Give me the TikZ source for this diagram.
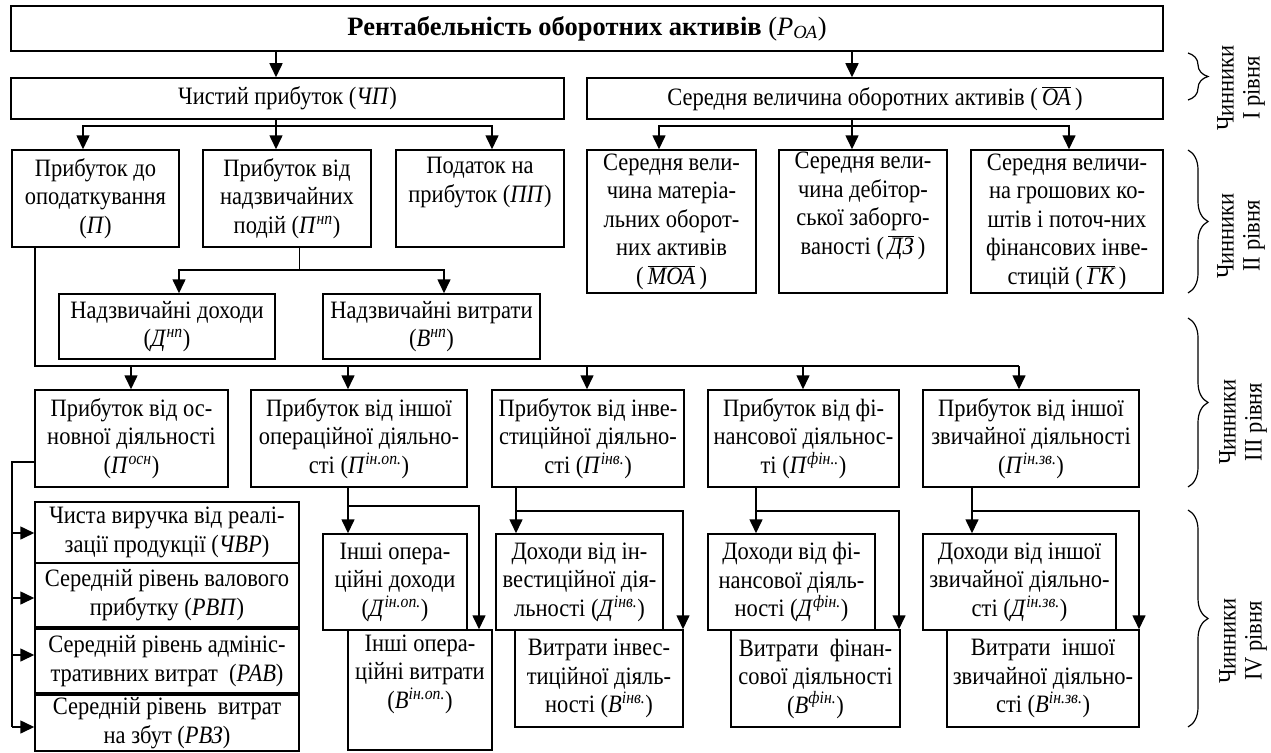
\documentclass[tikz,border=0pt]{standalone}
\usepackage{fontspec}
\setmainfont{Liberation Serif}[FakeStretch=0.9]
\newfontfamily\titlefont{Liberation Serif}
\usetikzlibrary{arrows.meta,decorations.pathreplacing}
\newcommand{\ovl}[1]{$\overline{\mbox{\itshape #1}}$}
\newcommand{\bx}[7][]{%
\pgfmathsetmacro{\bxcx}{(#3+#5)/2}%
\pgfmathsetmacro{\bxcy}{(#4+#6)/2}%
\pgfmathsetmacro{\bxw}{#5-#3}%
\pgfmathsetmacro{\bxh}{#6-#4}%
\node[box,minimum width=\bxw pt,minimum height=\bxh pt,#1] (#2) at (\bxcx,\bxcy) {#7};}
\newcommand{\ix}[2]{\textit{#1}\textsuperscript{\textit{#2}}}
\tikzset{
  box/.style={draw,line width=1.5pt,fill=white,inner sep=1pt,align=center,
    font=\fontsize{25}{28.5}\selectfont},
  ln/.style={line width=1.6pt},
  thinln/.style={line width=1pt},
  arr/.style={line width=1.6pt,-{Triangle[length=14pt,width=13pt]}},
  brc/.style={line width=1.2pt,decorate,decoration={brace,amplitude=20pt}},
  lvl/.style={rotate=90,align=center,font=\fontsize{25}{26}\selectfont}
}
\begin{document}
\begin{tikzpicture}[x=1pt,y=-1pt]
\useasboundingbox (0,0) rectangle (1271,752);
% level 0
\bx[font=\titlefont\fontsize{26.5}{30}\selectfont]{top}{11}{6}{1163}{51}{\textbf{Рентабельність оборотних активів} (\textit{Р}\textsubscript{\textit{ОА}})}
% level 1
\bx{chp}{11}{78}{564}{119}{Чистий прибуток (\textit{ЧП})}
\bx{oa}{587}{78}{1163}{119}{Середня величина оборотних активів (\,\ovl{ОА}\,)}
% level 2
\bx{p}{12}{150}{179}{247}{Прибуток до\\оподаткування\\(\textit{П})}
\bx{pnp}{203}{150}{371}{247}{Прибуток від\\надзвичайних\\подій (\ix{П}{нп})}
\bx{pp}{396}{150}{564}{247}{Податок на\\прибуток (\textit{ПП})\\\strut}
\bx{moa}{587}{150}{756}{293}{Середня вели-\\чина матеріа-\\льних оборот-\\них активів\\(\,\ovl{МОА}\,)}
\bx{dz}{779}{150}{947}{293}{Середня вели-\\чина дебітор-\\ської заборго-\\ваності (\,\ovl{ДЗ}\,)\\\strut}
\bx{gk}{971}{150}{1163}{293}{Середня величи-\\на грошових ко-\\штів і поточ-них\\фінансових інве-\\стицій (\,\ovl{ГК}\,)}
\bx{dnp}{59}{294}{275}{359}{Надзвичайні доходи\\(\ix{Д}{нп})}
\bx{vnp}{323}{294}{540}{359}{Надзвичайні витрати\\(\ix{В}{нп})}
% level 3
\bx{posn}{35}{390}{228}{487}{Прибуток від ос-\\новної діяльності\\(\ix{П}{осн})}
\bx{pinop}{251}{390}{467}{487}{Прибуток від іншої\\операційної діяльно-\\сті (\ix{П}{ін.оп.})}
\bx{pinv}{492}{390}{684}{487}{Прибуток від інве-\\стиційної діяльно-\\сті (\ix{П}{інв.})}
\bx{pfin}{708}{390}{899}{487}{Прибуток від фі-\\нансової діяльнос-\\ті (\ix{П}{фін..})}
\bx{pzv}{923}{390}{1139}{487}{Прибуток від іншої\\звичайної діяльності\\(\ix{П}{ін.зв.})}
% level 4
\bx{chvr}{35}{502}{299}{563}{Чиста виручка від реалі-\\зації продукції (\textit{ЧВР})}
\bx{rvp}{35}{563}{299}{627}{Середній рівень валового\\прибутку (\textit{РВП})}
\bx{rav}{35}{629}{299}{693}{Середній рівень адмініс-\\тративних витрат~ (\textit{РАВ})}
\bx{rvz}{35}{695}{299}{751}{Середній рівень~ витрат\\на збут (\textit{РВЗ})}
\bx{dinop}{323}{534}{467}{630}{Інші опера-\\ційні доходи\\(\ix{Д}{ін.оп.})}
\bx{vinop}{348}{630}{492}{750}{Інші опера-\\ційні витрати\\(\ix{В}{ін.оп.})\\\strut}
\bx{dinv}{496}{534}{663}{630}{Доходи від ін-\\вестиційної дія-\\льності (\ix{Д}{інв.})}
\bx{vinv}{515}{630}{683}{727}{Витрати інвес-\\тиційної діяль-\\ності (\ix{В}{інв.})}
\bx{dfin}{708}{534}{875}{630}{Доходи від фі-\\нансової діяль-\\ності (\ix{Д}{фін.})}
\bx{vfin}{731}{630}{900}{727}{Витрати~ фінан-\\сової діяльності\\(\ix{В}{фін.})}
\bx{dzv}{923}{534}{1116}{630}{Доходи від іншої\\звичайної діяльно-\\сті (\ix{Д}{ін.зв.})}
\bx{vzv}{947}{630}{1139}{727}{Витрати~ іншої\\звичайної діяльно-\\сті (\ix{В}{ін.зв.})}
% junction coordinates
\coordinate (j1) at (276,126);
\coordinate (j2) at (852,126);
\coordinate (j3) at (299,270);
\coordinate (j4) at (35,366);
\coordinate (j5) at (12,462);
\coordinate (jo) at (348,506);
\coordinate (ji) at (516,511);
\coordinate (jf) at (756,511);
\coordinate (jz) at (972,511);
% connectors level 0 -> 1
\draw[arr] (top.south -| j1) -- (chp.north -| j1);
\draw[arr] (top.south -| j2) -- (oa.north -| j2);
% level 1 -> 2
\draw[ln] (chp.south -| j1) -- (j1);
\draw[arr] (j1) -- (pnp.north -| j1);
\draw[arr] (j1) -| (p.north -| 83,0);
\draw[arr] (j1) -| (pp.north -| 492,0);
\draw[ln] (oa.south -| j2) -- (j2);
\draw[arr] (j2) -- (dz.north -| j2);
\draw[arr] (j2) -| (moa.north -| 659,0);
\draw[arr] (j2) -| (gk.north -| 1069,0);
% extraordinary
\draw[thinln] (pnp.south -| j3) -- (j3);
\draw[arr] (j3) -| (dnp.north -| 179,0);
\draw[arr] (j3) -| (vnp.north -| 444,0);
% level 2 -> 3
\draw[ln] (p.south -| j4) -- (j4) -- (1019,366);
\draw[arr] (131,366) -- (posn.north -| 131,0);
\draw[arr] (348,366) -- (pinop.north -| 348,0);
\draw[arr] (587,366) -- (pinv.north -| 587,0);
\draw[arr] (803,366) -- (pfin.north -| 803,0);
\draw[arr] (1019,366) -- (pzv.north -| 1019,0);
% main activity
\draw[ln] (posn.west |- j5) -- (j5) -- (12,727);
\draw[arr] (12,533) -- (chvr.west |- 0,533);
\draw[arr] (12,598) -- (rvp.west |- 0,598);
\draw[arr] (12,655) -- (rav.west |- 0,655);
\draw[arr] (12,727) -- (rvz.west |- 0,727);
% other operating
\draw[arr] (pinop.south -| jo) -- (dinop.north -| jo);
\draw[arr] (jo) -| (vinop.north -| 479,0);
% investment
\draw[arr] (pinv.south -| ji) -- (dinv.north -| ji);
\draw[arr] (ji) -| (vinv.north -| 683,0);
% financial
\draw[arr] (pfin.south -| jf) -- (dfin.north -| jf);
\draw[arr] (jf) -| (vfin.north -| 899,0);
% other ordinary
\draw[arr] (pzv.south -| jz) -- (dzv.north -| jz);
\draw[arr] (jz) -| (vzv.north -| 1139,0);
% braces
\draw[brc] (1188,53) -- (1188,100);
\draw[brc] (1188,150) -- (1188,293);
\draw[brc] (1188,318) -- (1188,487);
\draw[brc] (1188,510) -- (1188,727);
\node[lvl] (l1) at (1241,88) {Чинники\\I рівня};
\node[lvl] (l2) at (1241,236) {Чинники\\II рівня};
\node[lvl] (l3) at (1243,422) {Чинники\\III рівня};
\node[lvl] (l4) at (1243,641) {Чинники\\IV рівня};
\end{tikzpicture}
\end{document}
